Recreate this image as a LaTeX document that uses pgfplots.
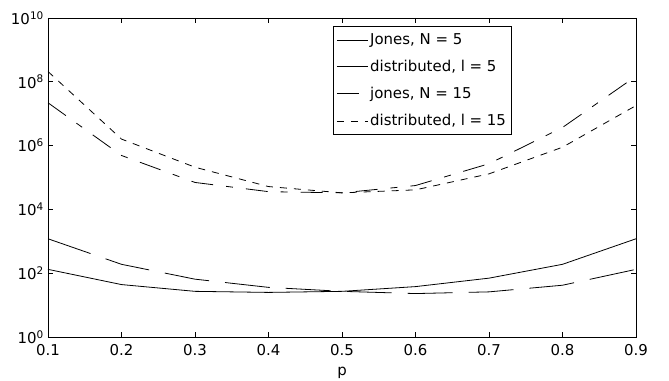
\documentclass[border=0pt]{standalone}
\usepackage{fontspec}
\setmainfont{DejaVu Sans}
\usepackage{pgfplots}
\pgfplotsset{compat=1.18}
\newcommand{\fs}{\fontsize{15}{18}\selectfont}
\begin{document}
\fs
\begin{tikzpicture}[font=\fs]
\begin{semilogyaxis}[
  name=ax, scale only axis, width=588bp, height=319bp,
  xmin=0.1, xmax=0.9, ymin=1, ymax=1e10,
  xtick={0.1,0.2,0.3,0.4,0.5,0.6,0.7,0.8,0.9},
  xticklabels={0.1,0.2,0.3,0.4,0.5,0.6,0.7,0.8,0.9},
  ytick={1,1e2,1e4,1e6,1e8,1e10},
  yticklabels={10\textsuperscript{0},10\textsuperscript{2},10\textsuperscript{4},10\textsuperscript{6},10\textsuperscript{8},10\textsuperscript{10}},
  yminorticks=false,
  tick align=inside, major tick length=5bp,
  tick style={black, line width=0.6bp},
  axis line style={line width=0.8bp},
  every tick label/.append style={font=\fs},
  xticklabel style={yshift=-2bp},
  yticklabel style={xshift=1bp},
  xlabel={p},
  every axis x label/.style={at={(axis description cs:0.5,0)}, anchor=center, yshift=-36bp, font=\fs},
  legend cell align=left,
  legend style={at={(0.788,0.975)}, anchor=north east, draw=black, line width=0.8bp, font=\fs,
    inner xsep=3bp, inner ysep=5bp, row sep=9.5bp},
  legend image code/.code={\draw[#1] (0bp,0bp) -- (31bp,0bp);},
]
\addplot[black, line width=0.8bp] coordinates {(0.1,132) (0.2,44) (0.3,27) (0.4,25) (0.5,27) (0.6,38) (0.7,70) (0.8,190) (0.9,1200)};
\addlegendentry{Jones, N = 5}
\addplot[black, line width=0.8bp, dash pattern=on 45bp off 16bp] coordinates {(0.1,1200) (0.2,190) (0.3,65) (0.4,36) (0.5,27) (0.6,23) (0.7,26) (0.8,42) (0.9,132)};
\addlegendentry{distributed, l = 5}
\addplot[black, line width=0.8bp, dash pattern=on 22bp off 13bp on 7bp off 13bp] coordinates {(0.1,2.2e7) (0.2,4.9e5) (0.3,7e4) (0.4,3.6e4) (0.5,3.3e4) (0.6,5.6e4) (0.7,2.7e5) (0.8,3.7e6) (0.9,1.5e8)};
\addlegendentry{jones, N = 15}
\addplot[black, line width=0.8bp, dash pattern=on 7bp off 7bp] coordinates {(0.1,2.1e8) (0.2,1.6e6) (0.3,2.1e5) (0.4,5.2e4) (0.5,3.3e4) (0.6,4.1e4) (0.7,1.3e5) (0.8,8.9e5) (0.9,1.8e7)};
\addlegendentry{distributed, l = 15\hspace{16bp}}
\end{semilogyaxis}
\pgfresetboundingbox
\path ([shift={(-48bp,-43bp)}]ax.south west) rectangle ([shift={(33bp,18bp)}]ax.north east);
\end{tikzpicture}
\end{document}
